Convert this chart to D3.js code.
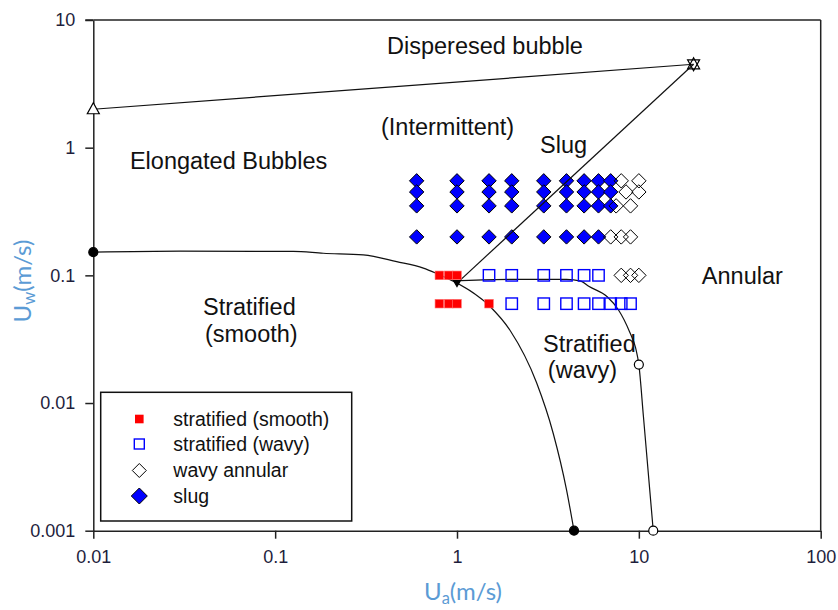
<!DOCTYPE html>
<html>
<head>
<meta charset="utf-8">
<script src="https://cdn.jsdelivr.net/npm/d3@7"></script>
<style>
  html, body { margin: 0; padding: 0; background: #fff; }
  svg { display: block; }
</style>
</head>
<body>
<svg id="chart" width="838" height="610"></svg>
<script>
// ---- flow-regime map data (superficial velocities, m/s) ----
const xTicks = [0.01, 0.1, 1, 10, 100];
const xTickLabels = ["0.01", "0.1", "1", "10", "100"];
const yTicks = [0.001, 0.01, 0.1, 1, 10];
const yTickLabels = ["0.001", "0.01", "0.1", "1", "10"];

// observed points: [Ua, Uw]
const smoothPts = [[0.8, 0.1], [0.9, 0.1], [1.0, 0.1],
                   [0.8, 0.06], [0.9, 0.06], [1.0, 0.06], [1.5, 0.06]];
const wavyPts = [[1.5, 0.1], [2, 0.1], [3, 0.1], [4, 0.1], [5, 0.1], [6, 0.1],
                 [2, 0.06], [3, 0.06], [4, 0.06], [5, 0.06], [6, 0.06], [7, 0.06], [8, 0.06], [9, 0.06]];
const annularPts = [[8, 0.55], [10, 0.55], [8.5, 0.45], [10, 0.45], [7.5, 0.35], [9, 0.35],
                    [7, 0.2], [8, 0.2], [9, 0.2], [8, 0.1], [9, 0.1], [10, 0.1]];
const slugPts = [
  [0.6, 0.55], [1, 0.55], [1.5, 0.55], [2, 0.55], [3, 0.55], [4, 0.55], [5, 0.55], [6, 0.55], [7, 0.55],
  [0.6, 0.45], [1, 0.45], [1.5, 0.45], [2, 0.45], [3, 0.45], [4, 0.45], [5, 0.45], [6, 0.45], [7, 0.45],
  [0.6, 0.35], [1, 0.35], [1.5, 0.35], [2, 0.35], [3, 0.35], [4, 0.35], [5, 0.35], [6, 0.35], [7, 0.35],
  [0.6, 0.2], [1, 0.2], [1.5, 0.2], [2, 0.2], [3, 0.2], [4, 0.2], [5, 0.2], [6, 0.2]
];

// transition boundaries
const dispersedLine = [[0.01, 2], [20, 4.5]];
const slugAnnularLine = [[20, 4.5], [1.0, 0.087]];
const stratIntermLine = [[0.01, 0.152], [0.03, 0.155], [0.126, 0.154], [0.184, 0.149], [0.305, 0.1445],
                         [0.466, 0.128], [0.653, 0.114], [0.766, 0.104], [1.0, 0.087]];
const smoothWavyLine = [[1.0, 0.087], [1.52, 0.057], [1.96, 0.037], [2.74, 0.0144], [3.38, 0.0058],
                        [4.0, 0.0021], [4.4, 0.001]];
const wavyAnnularLine = [[1.05, 0.091], [2, 0.093], [4, 0.093], [4.8, 0.09], [5.3, 0.082], [6.7, 0.068],
                         [7.7, 0.054], [8.9, 0.036], [9.6, 0.027], [10, 0.02], [10.6, 0.0078], [12, 0.001]];

// region names, anchored at the start of the baseline
const regionLabels = [
  { text: "Disperesed bubble", x: 0.412, y: 5.42 },
  { text: "(Intermittent)", x: 0.382, y: 1.257 },
  { text: "Slug", x: 2.86, y: 0.909 },
  { text: "Elongated Bubbles", x: 0.0159, y: 0.681 },
  { text: "Stratified", x: 0.0401, y: 0.049 },
  { text: "(smooth)", x: 0.0411, y: 0.0301 },
  { text: "Stratified", x: 2.97, y: 0.0251 },
  { text: "(wavy)", x: 3.16, y: 0.0157 },
  { text: "Annular", x: 22.2, y: 0.0857 }
];

const legendItems = ["stratified (smooth)", "stratified (wavy)", "wavy annular", "slug"];

// ---- layout ----
const svg = d3.select("#chart");
const x = d3.scaleLog().domain([0.01, 100]).range([93.3, 820.7]);
const y = d3.scaleLog().domain([0.001, 10]).range([530.7, 20]);

const tickFont = "'Liberation Sans', Arial, sans-serif";
const tickColor = "#1e1e3c";

// axes
const xAxis = svg.append("g").attr("transform", `translate(0,${y(0.001)})`)
  .call(d3.axisBottom(x).tickValues(xTicks).tickFormat((d, i) => xTickLabels[i])
        .tickSizeInner(8).tickSizeOuter(0).tickPadding(12));
const yAxis = svg.append("g").attr("transform", `translate(${x(0.01)},0)`)
  .call(d3.axisLeft(y).tickValues(yTicks).tickFormat((d, i) => yTickLabels[i])
        .tickSizeInner(8).tickSizeOuter(0).tickPadding(10));
[xAxis, yAxis].forEach(g => {
  g.selectAll("path, line").attr("stroke", "#222").attr("stroke-width", 1.5);
  g.selectAll("text").attr("font-family", tickFont).attr("font-size", 18).attr("fill", tickColor);
});

// top and right frame
svg.append("line").attr("x1", x(0.01)).attr("x2", x(100)).attr("y1", y(10)).attr("y2", y(10))
  .attr("stroke", "#222").attr("stroke-width", 1.5);
svg.append("line").attr("x1", x(100)).attr("x2", x(100)).attr("y1", y(10)).attr("y2", y(0.001))
  .attr("stroke", "#222").attr("stroke-width", 1.5);
svg.append("line").attr("x1", x(0.01) - 8).attr("x2", x(0.01)).attr("y1", y(10)).attr("y2", y(10))
  .attr("stroke", "#222").attr("stroke-width", 1.5);

// axis titles
const titleFont = "Lato, 'Open Sans', sans-serif";
const titleColor = "#5b9bd5";
const xt = svg.append("text").attr("x", 463).attr("y", 600).attr("text-anchor", "middle")
  .attr("font-family", titleFont).attr("font-size", 24).attr("fill", titleColor);
xt.append("tspan").text("U");
xt.append("tspan").attr("font-size", 16.5).attr("dy", 4).text("a");
xt.append("tspan").attr("dy", -4).text("(m/s)");

const yt = svg.append("text").attr("transform", "translate(31,281) rotate(-90)").attr("text-anchor", "middle")
  .attr("font-family", titleFont).attr("font-size", 24).attr("fill", titleColor);
yt.append("tspan").text("U");
yt.append("tspan").attr("font-size", 16.5).attr("dy", 4).text("w");
yt.append("tspan").attr("dy", -4).text("(m/s)");

// ---- markers ----
const diamond = s => `M0,${-s}L${s},0L0,${s}L${-s},0Z`;

svg.append("g").selectAll("path").data(slugPts).join("path")
  .attr("d", diamond(7.2)).attr("transform", d => `translate(${x(d[0])},${y(d[1])})`)
  .attr("fill", "#0000ff").attr("stroke", "#000").attr("stroke-width", 1);

svg.append("g").selectAll("path").data(annularPts).join("path")
  .attr("d", diamond(7.2)).attr("transform", d => `translate(${x(d[0])},${y(d[1])})`)
  .attr("fill", "none").attr("stroke", "#000").attr("stroke-width", 1);

// ---- boundaries ----
const lineStraight = d3.line().x(d => x(d[0])).y(d => y(d[1]));
const lineSmooth = d3.line().x(d => x(d[0])).y(d => y(d[1])).curve(d3.curveMonotoneX);
const bGroup = svg.append("g").attr("fill", "none").attr("stroke", "#111").attr("stroke-width", 1.2);
bGroup.append("path").attr("d", lineStraight(dispersedLine));
bGroup.append("path").attr("d", lineStraight(slugAnnularLine));
bGroup.append("path").attr("d", lineSmooth(stratIntermLine));
bGroup.append("path").attr("d", lineSmooth(smoothWavyLine));
bGroup.append("path").attr("d", lineSmooth(wavyAnnularLine));

svg.append("g").selectAll("rect").data(smoothPts).join("rect")
  .attr("x", d => x(d[0]) - 4.3).attr("y", d => y(d[1]) - 4.3).attr("width", 8.6).attr("height", 8.6)
  .attr("fill", "#ff0000").attr("stroke", "#ff6a6a").attr("stroke-width", 0.6);

svg.append("g").selectAll("rect").data(wavyPts).join("rect")
  .attr("x", d => x(d[0]) - 5.7).attr("y", d => y(d[1]) - 5.7).attr("width", 11.4).attr("height", 11.4)
  .attr("fill", "none").attr("stroke", "#0000ff").attr("stroke-width", 1.4);

// boundary end markers
const endpoints = svg.append("g").attr("stroke", "#000").attr("stroke-width", 1.2);
endpoints.append("circle").attr("cx", x(0.01)).attr("cy", y(0.152)).attr("r", 4.5).attr("fill", "#000");
endpoints.append("circle").attr("cx", x(4.4)).attr("cy", y(0.001)).attr("r", 4.5).attr("fill", "#000");
endpoints.append("circle").attr("cx", x(10)).attr("cy", y(0.02)).attr("r", 4.5).attr("fill", "#fff");
endpoints.append("circle").attr("cx", x(12)).attr("cy", y(0.001)).attr("r", 4.5).attr("fill", "#fff");
const triUp = "M0,-6.5L6,4.5L-6,4.5Z";
const triDown = "M0,6.5L6,-4.5L-6,-4.5Z";
endpoints.append("path").attr("d", triUp).attr("fill", "#fff")
  .attr("transform", `translate(${x(0.01)},${y(2)})`);
endpoints.append("path").attr("d", triUp).attr("fill", "none")
  .attr("transform", `translate(${x(20)},${y(4.5)})`);
endpoints.append("path").attr("d", triDown).attr("fill", "none")
  .attr("transform", `translate(${x(20)},${y(4.5)})`);
endpoints.append("path").attr("d", "M0,3.5L3.5,-2.5L-3.5,-2.5Z").attr("fill", "#000")
  .attr("transform", `translate(${x(1.0)},${y(0.087)})`);

// region labels
svg.append("g").selectAll("text").data(regionLabels).join("text")
  .attr("x", d => x(d.x)).attr("y", d => y(d.y)).text(d => d.text)
  .attr("font-family", "'Liberation Sans', Arial, sans-serif").attr("font-size", 23.5).attr("fill", "#111");

// ---- legend ----
const lg = svg.append("g");
lg.append("rect").attr("x", 100.7).attr("y", 392.3).attr("width", 251).attr("height", 128.7)
  .attr("fill", "#fff").attr("stroke", "#111").attr("stroke-width", 1.5);
const ly = [419, 444, 470.5, 496];
const lx = 139.3;
lg.append("rect").attr("x", lx - 4.3).attr("y", ly[0] - 4.3).attr("width", 8.6).attr("height", 8.6)
  .attr("fill", "#ff0000");
lg.append("rect").attr("x", lx - 5).attr("y", ly[1] - 5).attr("width", 10).attr("height", 10)
  .attr("fill", "none").attr("stroke", "#0000ff").attr("stroke-width", 1.4);
lg.append("path").attr("d", diamond(7)).attr("transform", `translate(${lx},${ly[2]})`)
  .attr("fill", "none").attr("stroke", "#000").attr("stroke-width", 1);
lg.append("path").attr("d", diamond(8)).attr("transform", `translate(${lx},${ly[3]})`)
  .attr("fill", "#0000ff").attr("stroke", "#000").attr("stroke-width", 1);
lg.selectAll("text.item").data(legendItems).join("text").attr("class", "item")
  .attr("x", 173.3).attr("y", (d, i) => ly[i]).attr("dy", "0.35em").text(d => d)
  .attr("font-family", "'Liberation Sans', Arial, sans-serif").attr("font-size", 19.5).attr("fill", "#111");
</script>
</body>
</html>
